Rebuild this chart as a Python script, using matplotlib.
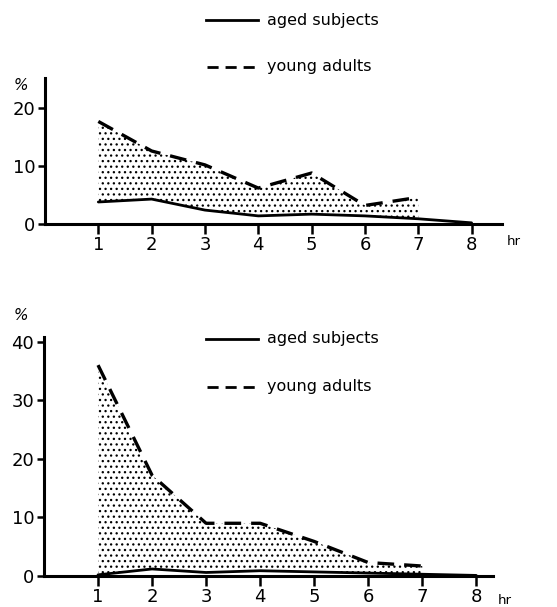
import matplotlib
matplotlib.use("Agg")
import matplotlib.pyplot as plt
import numpy as np

plt.rcParams['hatch.linewidth'] = 0.9
plt.rcParams['font.family'] = ['DejaVu Sans']

hours = [1, 2, 3, 4, 5, 6, 7, 8]
young_hours = [1, 2, 3, 4, 5, 6, 7]

# Top panel
top_aged = [3.8, 4.3, 2.4, 1.4, 1.7, 1.4, 0.9, 0.2]
top_young = [17.7, 12.6, 10.2, 6.2, 8.8, 3.2, 4.6]

# Bottom panel
bot_aged = [0.2, 1.2, 0.6, 0.9, 0.7, 0.5, 0.3, 0.1]
bot_young = [36.0, 17.2, 9.0, 9.0, 5.9, 2.3, 1.7]

top_yticks = [0, 10, 20]
bot_yticks = [0, 10, 20, 30, 40]
xtick_labels = ['1', '2', '3', '4', '5', '6', '7', '8']

fig = plt.figure(figsize=(5.57, 6.07), dpi=100)

def panel(rect, aged, young, yticks, xlim, ylim):
    ax = fig.add_axes(rect)
    ax.fill_between(young_hours, aged[:len(young_hours)], young,
                    facecolor='white', edgecolor='black', hatch='...', linewidth=0)
    ax.plot(hours, aged, color='black', lw=2.0, solid_capstyle='round')
    ax.plot(young_hours, young, color='black', lw=2.4, dashes=(5, 3))
    ax.set_xlim(*xlim)
    ax.set_ylim(*ylim)
    for s in ['top', 'right']:
        ax.spines[s].set_visible(False)
    for s in ['left', 'bottom']:
        ax.spines[s].set_linewidth(2.2)
    ax.set_xticks(hours)
    ax.set_xticklabels(xtick_labels, fontsize=13)
    ax.set_yticks(yticks)
    ax.set_yticklabels([str(v) for v in yticks], fontsize=13)
    ax.tick_params(axis='x', direction='out', length=7, width=1.8, pad=1.5)
    ax.tick_params(axis='y', direction='out', length=5, width=1.8, pad=2)
    ax.text(1.01, -0.075, 'hr', transform=ax.transAxes, fontsize=9.5,
            va='top', ha='left')
    return ax

ax1 = panel([45/557, 1 - 224/607, 457/557, 146/607], top_aged, top_young,
            top_yticks, (0, 8.57), (0, 25.2))
ax2 = panel([44/557, 31/607, 449/557, 239/607], bot_aged, bot_young,
            bot_yticks, (0, 8.31), (0, 40.8))

# % labels
fig.text(14/557, 1 - 85/607, '%', fontsize=11, ha='left', va='center', style='italic')
fig.text(14/557, 1 - 316/607, '%', fontsize=11, ha='left', va='center', style='italic')

# legends
def legend(y_aged, y_young):
    fig.add_artist(plt.Line2D([206/557, 258/557], [1 - y_aged/607]*2, color='black', lw=2.0))
    fig.add_artist(plt.Line2D([207/557, 258/557], [1 - y_young/607]*2, color='black', lw=2.0,
                              dashes=(4, 2.5)))
    fig.text(267/557, 1 - y_aged/607, 'aged subjects', fontsize=11.5, va='center', ha='left')
    fig.text(267/557, 1 - y_young/607, 'young adults', fontsize=11.5, va='center', ha='left')

legend(20, 67)
legend(339, 387)

fig.savefig('out.png', dpi=100)
